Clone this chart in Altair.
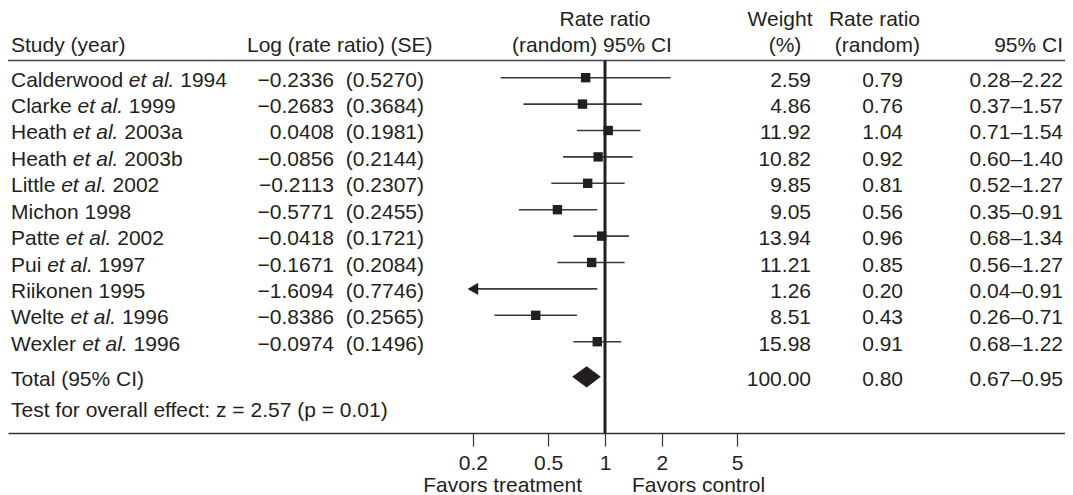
import altair as alt
import pandas as pd

# ---------------- data ----------------
studies = ["Calderwood", "Clarke", "Heath", "Heath", "Little", "Michon",
           "Patte", "Pui", "Riikonen", "Welte", "Wexler"]
et_al = [True, True, True, True, True, False, True, True, False, True, True]
years = ["1994", "1999", "2003a", "2003b", "2002", "1998", "2002", "1997",
         "1995", "1996", "1996"]
log_rr = [-0.2336, -0.2683, 0.0408, -0.0856, -0.2113, -0.5771, -0.0418,
          -0.1671, -1.6094, -0.8386, -0.0974]
se = [0.5270, 0.3684, 0.1981, 0.2144, 0.2307, 0.2455, 0.1721, 0.2084,
      0.7746, 0.2565, 0.1496]
weight = [2.59, 4.86, 11.92, 10.82, 9.85, 9.05, 13.94, 11.21, 1.26, 8.51, 15.98]
rate_ratio = [0.79, 0.76, 1.04, 0.92, 0.81, 0.56, 0.96, 0.85, 0.20, 0.43, 0.91]
ci_low = [0.28, 0.37, 0.71, 0.60, 0.52, 0.35, 0.68, 0.56, 0.04, 0.26, 0.68]
ci_high = [2.22, 1.57, 1.54, 1.40, 1.27, 0.91, 1.34, 1.27, 0.91, 0.71, 1.22]

total_label = "Total (95% CI)"
total_weight = 100.00
total_rr = 0.80
total_low = 0.67
total_high = 0.95
test_text = "Test for overall effect: z = 2.57 (p = 0.01)"
x_ticks = [0.2, 0.5, 1, 2, 5]
ref_value = 1
draw_floor = 0.2          # CIs below this are drawn as an arrow
favors_left = "Favors treatment"
favors_right = "Favors control"

head_top = ["Rate ratio", "Weight", "Rate ratio"]
head_bottom = ["Study (year)", "Log (rate ratio) (SE)", "(random) 95% CI",
               "(%)", "(random)", "95% CI"]

# ---------------- layout ----------------
W, H = 1057, 425
FONT = "Liberation Sans"
FS = 21
TXT = "#231f20"
LINE = "#3a3a3a"
X_ONE, X_PER_DEC = 597, 189
XDOM = [10 ** (-X_ONE / X_PER_DEC), 10 ** ((W - X_ONE) / X_PER_DEC)]
YDOM = [-2.640, 13.458]
ROW_TOP, ROW_HEAD, ROW_RULE = -2.30, -1.326, -0.65
ROW_TOTAL, ROW_TEST, ROW_FAVORS = 11.33, 12.5, 15.36

xs = alt.Scale(type="log", domain=XDOM, nice=False)
ys = alt.Scale(domain=YDOM, reverse=True, nice=False, zero=False)

# Arial / Liberation Sans advance widths (1/1000 em)
AW = {" ": 278, ".": 278, "a": 556, "c": 500, "d": 556, "e": 556, "h": 556,
      "i": 222, "k": 500, "l": 222, "n": 556, "o": 556, "r": 333, "t": 278,
      "u": 556, "w": 722, "x": 500, "C": 722, "H": 722, "L": 556, "M": 833,
      "P": 667, "R": 722, "W": 944}


def tw(s):
    return sum(AW.get(c, 556) for c in s) * FS / 1000.0


def fmt_minus(v, d):
    return f"{v:.{d}f}".replace("-", "\u2212")


n = len(studies)
NAME_X = 3
df = pd.DataFrame({
    "row": list(range(n)),
    "name": [s if e else f"{s} {y}" for s, e, y in zip(studies, et_al, years)],
    "etal": ["et al." if e else "" for e in et_al],
    "year": [y if e else "" for e, y in zip(et_al, years)],
    "logtxt": [fmt_minus(v, 4) for v in log_rr],
    "setxt": [f"({s:.4f})" for s in se],
    "wtxt": [f"{w:.2f}" for w in weight],
    "rrtxt": [f"{r:.2f}" for r in rate_ratio],
    "citxt": [f"{a:.2f}\u2013{b:.2f}" for a, b in zip(ci_low, ci_high)],
    "rr": rate_ratio,
    "lo": ci_low,
    "hi": ci_high,
})
df["lo_draw"] = df["lo"].clip(lower=draw_floor)
df["px_etal"] = [NAME_X + tw(s + " ") for s in studies]
df["px_year"] = [NAME_X + tw(s + " ") + tw("et al. ") for s in studies]
df["px_name"] = NAME_X

Y = lambda f: alt.Y(f"{f}:Q", scale=ys, axis=None)


def txt(data, field, x, align="left", style="normal", row="row"):
    return alt.Chart(data).mark_text(
        align=align, baseline="alphabetic", dy=9, font=FONT, fontSize=FS,
        color=TXT, fontStyle=style
    ).encode(x=x, y=Y(row), text=f"{field}:N")


ci = alt.Chart(df).mark_rule(color=LINE, strokeWidth=1.6).encode(
    x=alt.X("lo_draw:Q", scale=xs, title=None,
            axis=alt.Axis(values=x_ticks, format="~g", grid=False,
                          domainColor="#333333", domainWidth=1.6,
                          tickColor="#333333", tickWidth=1.2, tickSize=13,
                          labelFont=FONT, labelFontSize=FS, labelColor=TXT,
                          labelPadding=6, labelFlush=False,
                          labelOverlap=False)),
    x2="hi:Q",
    y=Y("row"),
)

squares = alt.Chart(df[df["rr"] > draw_floor]).mark_point(
    shape="square", filled=True, size=88, color=TXT, opacity=1
).encode(x=alt.X("rr:Q", scale=xs), y=Y("row"))

arrows = alt.Chart(df[df["lo"] < draw_floor]).mark_point(
    shape="triangle-left", filled=True, size=150, color=TXT, opacity=1
).encode(x=alt.X("lo_draw:Q", scale=xs), y=Y("row"))

diamond_df = pd.DataFrame({
    "x": [total_low, total_rr, total_high],
    "y1": [ROW_TOTAL, ROW_TOTAL - 0.40, ROW_TOTAL],
    "y2": [ROW_TOTAL, ROW_TOTAL + 0.40, ROW_TOTAL],
})
diamond = alt.Chart(diamond_df).mark_area(
    color=TXT, orient="vertical", opacity=1
).encode(x=alt.X("x:Q", scale=xs), y=Y("y1"), y2="y2:Q")

ref_df = pd.DataFrame({"x": [ref_value], "y1": [ROW_RULE], "y2": [YDOM[1]]})
ref_line = alt.Chart(ref_df).mark_rule(color=TXT, strokeWidth=3).encode(
    x=alt.X("x:Q", scale=xs), y=Y("y1"), y2="y2:Q")

head_rule = alt.Chart(pd.DataFrame({"y": [ROW_RULE]})).mark_rule(
    color="#444444", strokeWidth=1.6
).encode(x=alt.value(0), x2=alt.value(W), y=Y("y"))

# row texts
names = txt(df, "name", alt.X("px_name:Q", scale=None))
df_et = df[df["etal"] != ""]
etal_t = txt(df_et, "etal", alt.X("px_etal:Q", scale=None), style="italic")
year_t = txt(df_et, "year", alt.X("px_year:Q", scale=None))
log_t = txt(df, "logtxt", alt.value(326), "right")
se_t = txt(df, "setxt", alt.value(416), "right")
w_t = txt(df, "wtxt", alt.value(803), "right")
rr_t = txt(df, "rrtxt", alt.value(895), "right")
ci_t = txt(df, "citxt", alt.value(1055), "right")

tot = pd.DataFrame({"row": [ROW_TOTAL], "label": [total_label],
                    "w": [f"{total_weight:.2f}"], "r": [f"{total_rr:.2f}"],
                    "ci": [f"{total_low:.2f}\u2013{total_high:.2f}"]})
tot_l = txt(tot, "label", alt.value(NAME_X))
tot_w = txt(tot, "w", alt.value(803), "right")
tot_r = txt(tot, "r", alt.value(895), "right")
tot_c = txt(tot, "ci", alt.value(1055), "right")

test_t = txt(pd.DataFrame({"row": [ROW_TEST], "t": [test_text]}), "t",
             alt.value(NAME_X))

# headers
def hrow(i, r):
    return pd.DataFrame({"row": [r], "t": [i]})

h1 = txt(hrow(head_top[0], ROW_TOP), "t", alt.value(597), "center")
h2 = txt(hrow(head_top[1], ROW_TOP), "t", alt.value(772), "center")
h3 = txt(hrow(head_top[2], ROW_TOP), "t", alt.value(912), "right")
h4 = txt(hrow(head_bottom[0], ROW_HEAD), "t", alt.value(NAME_X))
h5 = txt(hrow(head_bottom[1], ROW_HEAD), "t", alt.value(239))
h6 = txt(hrow(head_bottom[2], ROW_HEAD), "t", alt.value(584), "center")
h7 = txt(hrow(head_bottom[3], ROW_HEAD), "t", alt.value(777), "center")
h8 = txt(hrow(head_bottom[4], ROW_HEAD), "t", alt.value(912), "right")
h9 = txt(hrow(head_bottom[5], ROW_HEAD), "t", alt.value(1055), "right")

fav_df = pd.DataFrame({"x": [ref_value], "row": [ROW_FAVORS],
                       "l": [favors_left], "r": [favors_right]})
fav_l = alt.Chart(fav_df).mark_text(
    align="right", baseline="alphabetic", dy=9, dx=-23, font=FONT,
    fontSize=FS, color=TXT).encode(x=alt.X("x:Q", scale=xs), y=Y("row"),
                                   text="l:N")
fav_r = alt.Chart(fav_df).mark_text(
    align="left", baseline="alphabetic", dy=9, dx=27, font=FONT,
    fontSize=FS, color=TXT).encode(x=alt.X("x:Q", scale=xs), y=Y("row"),
                                   text="r:N")

chart = alt.layer(
    ci, head_rule, ref_line, squares, arrows, diamond,
    names, etal_t, year_t, log_t, se_t, w_t, rr_t, ci_t,
    tot_l, tot_w, tot_r, tot_c, test_t,
    h1, h2, h3, h4, h5, h6, h7, h8, h9, fav_l, fav_r,
).properties(
    width=W, height=H,
    autosize=alt.AutoSizeParams(type="none"),
    padding={"left": 0, "right": 0, "top": 0, "bottom": 62},
).configure_view(stroke=None)

chart.save("out.html", embed_options={"renderer": "svg", "actions": False})
